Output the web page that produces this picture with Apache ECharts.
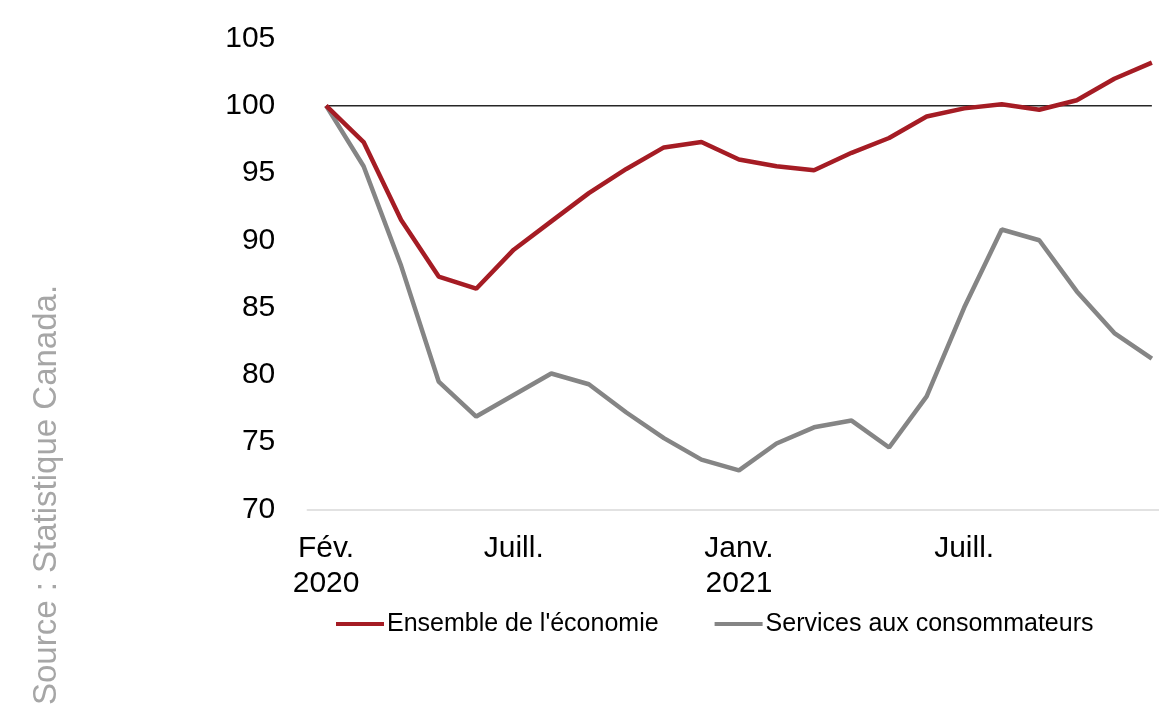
<!DOCTYPE html>
<html>
<head>
<meta charset="utf-8">
<script src="https://cdn.jsdelivr.net/npm/echarts@6/dist/echarts.min.js"></script>
<style>
html,body{margin:0;padding:0;background:#fff;}
#chart{width:1159px;height:707px;}
</style>
</head>
<body>
<div id="chart"></div>
<script>
var categories = ['2020-02','2020-03','2020-04','2020-05','2020-06','2020-07','2020-08','2020-09','2020-10','2020-11','2020-12',
  '2021-01','2021-02','2021-03','2021-04','2021-05','2021-06','2021-07','2021-08','2021-09','2021-10','2021-11','2021-12'];
var xTickLabels = ['Fév.\n2020','','','','','Juill.','','','','','',
  'Janv.\n2021','','','','','','Juill.','','','','',''];
var ensembleEconomie = [100, 97.3, 91.5, 87.3, 86.4, 89.3, 91.4, 93.5, 95.3, 96.9, 97.3,
  96.0, 95.5, 95.2, 96.5, 97.6, 99.2, 99.8, 100.1, 99.7, 100.4, 102.0, 103.2];
var servicesConsommateurs = [100, 95.5, 88.1, 79.5, 76.9, 78.5, 80.1, 79.3, 77.2, 75.3, 73.7,
  72.9, 74.9, 76.1, 76.6, 74.6, 78.4, 85.0, 90.8, 90.0, 86.2, 83.1, 81.2];
var referenceLevel = categories.map(function(){ return 100; });
var yMin = 70, yMax = 105, yStep = 5;
var seriesNames = ['Ensemble de l\'économie', 'Services aux consommateurs'];
var sourceText = 'Source : Statistique Canada.';

// category positions on a value axis: half-category padding on the left,
// the plot runs past the right edge of the picture
var labelIdx = xTickLabels.map(function(t, i){ return t ? i : -1; }).filter(function(i){ return i >= 0; });
function pairs(arr){ return arr.map(function(v, i){ return [i, v]; }); }

var FONT = '"Liberation Sans", Arial, Helvetica, sans-serif';
var chart = echarts.init(document.getElementById('chart'), null, {renderer: 'canvas'});
chart.setOption({
  animation: false,
  backgroundColor: '#ffffff',
  grid: {left: 307.3, top: 38.4, right: 0, height: 471, containLabel: false},
  xAxis: {
    type: 'value',
    min: -0.5,
    max: categories.length - 1 + 0.19,
    axisLine: {show: true, onZero: false, lineStyle: {color: '#d9d9d9', width: 1.5}},
    axisTick: {show: false},
    splitLine: {show: false},
    axisLabel: {
      customValues: labelIdx,
      margin: 22,
      color: '#000',
      fontFamily: FONT,
      fontSize: 30,
      lineHeight: 35,
      showMinLabel: true,
      showMaxLabel: true,
      formatter: function(v){ return xTickLabels[Math.round(v)] || ''; }
    }
  },
  yAxis: {
    type: 'value',
    min: yMin, max: yMax, interval: yStep,
    axisLine: {show: false},
    axisTick: {show: false},
    splitLine: {show: false},
    axisLabel: {color: '#000', fontFamily: FONT, fontSize: 30, margin: 32}
  },
  legend: {
    data: seriesNames,
    left: 331,
    top: 604,
    icon: 'rect',
    itemWidth: 48,
    itemHeight: 4,
    itemGap: 56,
    textStyle: {color: '#000', fontFamily: FONT, fontSize: 25, lineHeight: 30, padding: [0,0,0,-2]}
  },
  graphic: [{
    type: 'text',
    x: 47,
    y: 705,
    rotation: Math.PI / 2,
    silent: true,
    style: {
      text: sourceText,
      fill: '#a6a6a6',
      fontFamily: FONT,
      fontSize: 33,
      textAlign: 'left',
      textVerticalAlign: 'middle'
    }
  }],
  series: [
    {
      name: 'ref',
      type: 'line',
      data: pairs(referenceLevel),
      symbol: 'none',
      silent: true,
      lineStyle: {color: '#262626', width: 1.5},
      z: 1
    },
    {
      name: seriesNames[0],
      type: 'line',
      data: pairs(ensembleEconomie),
      symbol: 'none',
      color: '#a51c24',
      lineStyle: {color: '#a51c24', width: 4.5},
      z: 3
    },
    {
      name: seriesNames[1],
      type: 'line',
      data: pairs(servicesConsommateurs),
      symbol: 'none',
      color: '#858585',
      lineStyle: {color: '#858585', width: 4.5},
      z: 2
    }
  ]
});
</script>
</body>
</html>
